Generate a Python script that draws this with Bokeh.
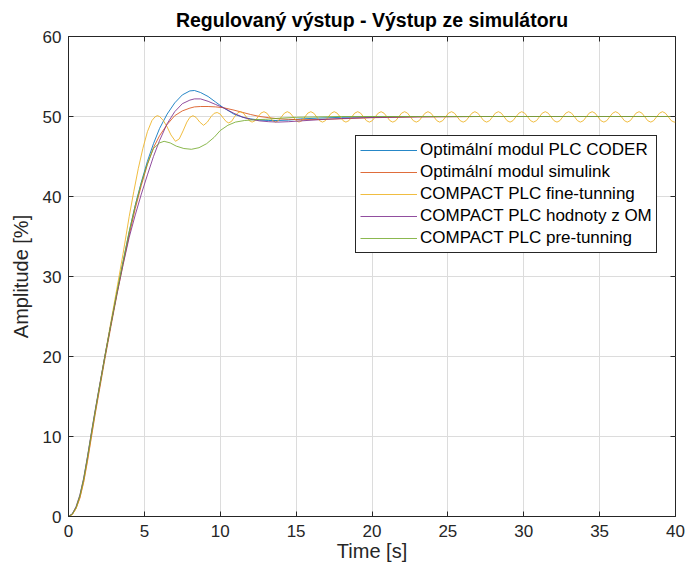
from bokeh.plotting import figure
from bokeh.models import (Legend, LegendItem, LinearAxis, FixedTicker, Range1d,
                          CustomLabelingPolicy)
from bokeh.embed import file_html
from bokeh.resources import INLINE

# ---------------- data ----------------
x_ticks = [0, 5, 10, 15, 20, 25, 30, 35, 40]
y_ticks = [0, 10, 20, 30, 40, 50, 60]

labels = ["Optimální modul PLC CODER", "Optimální modul simulink",
          "COMPACT PLC fine-tunning", "COMPACT PLC hodnoty z OM",
          "COMPACT PLC pre-tunning"]
colors = ["#0072BD", "#D95319", "#EDB120", "#7E2F8E", "#77AC30"]

t_common = [0, 0.25, 0.5, 0.75, 1.0, 1.25, 1.5, 1.75, 2.0, 2.4, 2.8, 3.2, 3.6,
            4.0, 4.4, 4.8, 5.2, 5.6, 6.0, 6.5, 7.0, 7.5, 8.0, 8.3, 8.7, 9.2,
            9.7, 10.2, 10.9, 11.5, 12.0, 12.6, 13.2, 13.8, 14.5, 15.3, 16.5,
            18, 20, 23, 27, 32, 40]

coder = [0, 0.3, 1.1, 2.5, 4.6, 7.3, 10.2, 13.0, 15.7, 20.0, 24.1, 28.1, 31.9,
         35.6, 38.9, 41.8, 44.4, 46.6, 48.5, 50.3, 51.7, 52.7, 53.2, 53.25, 53.0,
         52.5, 51.8, 51.1, 50.3, 49.9, 49.7, 49.55, 49.5, 49.5, 49.55, 49.7,
         49.8, 49.9, 49.95, 50.0, 50.0, 50.0, 50.0]

simulink = [0, 0.25, 1.0, 2.3, 4.3, 6.9, 9.8, 12.7, 15.4, 19.7, 23.8, 27.8, 31.6,
            35.2, 38.5, 41.4, 44.0, 46.1, 47.6, 49.0, 50.1, 50.7, 51.05, 51.2,
            51.25, 51.25, 51.2, 51.1, 50.8, 50.5, 50.25, 50.0, 49.85, 49.72,
            49.65, 49.6, 49.62, 49.72, 49.85, 49.95, 50.0, 50.0, 50.0]

hodnoty = [0, 0.35, 1.25, 2.7, 4.8, 7.5, 10.4, 13.2, 15.9, 20.1, 24.1, 27.9, 31.5,
           34.9, 37.7, 40.3, 42.7, 45.0, 47.0, 49.1, 50.6, 51.6, 52.05, 52.2,
           52.2, 51.9, 51.5, 51.1, 50.4, 49.9, 49.65, 49.45, 49.35, 49.3, 49.35,
           49.45, 49.6, 49.75, 49.88, 49.96, 50.0, 50.0, 50.0]

t_pre = [0, 0.25, 0.5, 0.75, 1.0, 1.25, 1.5, 1.75, 2.0, 2.4, 2.8, 3.2, 3.6, 4.0,
         4.4, 4.8, 5.2, 5.6, 6.0, 6.3, 6.7, 7.1, 7.6, 8.1, 8.6, 9.1, 9.6, 10.0,
         10.5, 11.0, 11.6, 12.3, 13.0, 14.0, 15.0, 16.5, 18, 20, 23, 27, 32, 40]
pre = [0, 0.3, 1.15, 2.6, 4.7, 7.4, 10.3, 13.1, 15.8, 20.0, 24.1, 28.1, 31.9,
       35.6, 38.9, 41.7, 44.1, 46.0, 46.7, 46.9, 46.7, 46.3, 46.0, 45.9, 46.1,
       46.6, 47.4, 48.25, 48.9, 49.3, 49.5, 49.6, 49.65, 49.8, 49.9, 49.95,
       50.0, 50.0, 50.0, 50.0, 50.0, 50.0]

t_fine = [0, 0.25, 0.5, 0.75, 1.0, 1.25, 1.5, 1.75, 2.0, 2.4, 2.8, 3.2, 3.6, 4.0,
          4.3, 4.6, 4.9, 5.2, 5.5, 5.7, 5.85, 6.0, 6.25, 6.5, 6.75, 7.05, 7.3,
          7.55, 7.8, 8.0, 8.2, 8.4, 8.65, 8.9, 9.15, 9.4, 9.6, 9.8, 10.0, 10.2,
          10.4, 10.56, 10.75, 10.95, 11.15,
          11.33, 11.52, 11.72, 11.91, 12.10, 12.30, 12.49, 12.68,
          12.88, 13.07, 13.26, 13.45, 13.65, 13.84, 14.03, 14.23,
          14.42, 14.61, 14.81, 15.00, 15.19, 15.39, 15.58, 15.77,
          15.97, 16.16, 16.35, 16.54, 16.74, 16.93, 17.12, 17.32,
          17.51, 17.70, 17.90, 18.09, 18.28, 18.48, 18.67, 18.86,
          19.06, 19.25, 19.44, 19.63, 19.83, 20.02, 20.21, 20.41,
          20.60, 20.79, 20.99, 21.18, 21.37, 21.57, 21.76, 21.95,
          22.15, 22.34, 22.53, 22.72, 22.92, 23.11, 23.30, 23.50,
          23.69, 23.88, 24.08, 24.27, 24.46, 24.66, 24.85, 25.04,
          25.24, 25.43, 25.62, 25.81, 26.01, 26.20, 26.39, 26.59,
          26.78, 26.97, 27.17, 27.36, 27.55, 27.75, 27.94, 28.13,
          28.33, 28.52, 28.71, 28.90, 29.10, 29.29, 29.48, 29.68,
          29.87, 30.06, 30.26, 30.45, 30.64, 30.84, 31.03, 31.22,
          31.42, 31.61, 31.80, 31.99, 32.19, 32.38, 32.57, 32.77,
          32.96, 33.15, 33.35, 33.54, 33.73, 33.93, 34.12, 34.31,
          34.51, 34.70, 34.89, 35.08, 35.28, 35.47, 35.66, 35.86,
          36.05, 36.24, 36.44, 36.63, 36.82, 37.02, 37.21, 37.40,
          37.60, 37.79, 37.98, 38.17, 38.37, 38.56, 38.75, 38.95,
          39.14, 39.33, 39.53, 39.72, 39.91, 40.0]
fine = [0, 0.25, 1.0, 2.4, 4.4, 7.1, 10.0, 12.9, 15.7, 20.1, 24.4, 28.6, 32.9,
        37.5, 40.6, 43.5, 46.0, 48.1, 49.5, 49.95, 50.1, 50.0, 49.5, 48.7, 47.7,
        46.9, 47.2, 48.2, 49.3, 49.9, 50.1, 49.9, 49.3, 48.9, 49.3, 50.0, 50.4,
        50.5, 50.3, 49.8, 49.35, 49.2, 49.4, 50.0, 50.45,
        50.6, 50.42, 49.95, 49.48, 49.3, 49.48, 49.95, 50.42,
        50.6, 50.42, 49.95, 49.48, 49.3, 49.48, 49.95, 50.42,
        50.6, 50.42, 49.95, 49.48, 49.3, 49.48, 49.95, 50.42,
        50.6, 50.42, 49.95, 49.48, 49.3, 49.48, 49.95, 50.42,
        50.6, 50.42, 49.95, 49.48, 49.3, 49.48, 49.95, 50.42,
        50.6, 50.42, 49.95, 49.48, 49.3, 49.48, 49.95, 50.42,
        50.6, 50.42, 49.95, 49.48, 49.3, 49.48, 49.95, 50.42,
        50.6, 50.42, 49.95, 49.48, 49.3, 49.48, 49.95, 50.42,
        50.6, 50.42, 49.95, 49.48, 49.3, 49.48, 49.95, 50.42,
        50.6, 50.42, 49.95, 49.48, 49.3, 49.48, 49.95, 50.42,
        50.6, 50.42, 49.95, 49.48, 49.3, 49.48, 49.95, 50.42,
        50.6, 50.42, 49.95, 49.48, 49.3, 49.48, 49.95, 50.42,
        50.6, 50.42, 49.95, 49.48, 49.3, 49.48, 49.95, 50.42,
        50.6, 50.42, 49.95, 49.48, 49.3, 49.48, 49.95, 50.42,
        50.6, 50.42, 49.95, 49.48, 49.3, 49.48, 49.95, 50.42,
        50.6, 50.42, 49.95, 49.48, 49.3, 49.48, 49.95, 50.42,
        50.6, 50.42, 49.95, 49.48, 49.3, 49.48, 49.95, 50.42,
        50.6, 50.42, 49.95, 49.48, 49.3, 49.48, 49.95, 50.42,
        50.6, 50.42, 49.95, 49.48, 49.3, 49.32]

series = [(t_common, coder), (t_common, simulink), (t_fine, fine),
          (t_common, hodnoty), (t_pre, pre)]

# ---------------- figure ----------------
FONT = "Liberation Sans"
TXT = "#262626"

p = figure(width=687, height=574, x_range=Range1d(0, 40), y_range=Range1d(0, 60),
           output_backend="svg", toolbar_location=None,
           min_border_left=68, min_border_right=12, min_border_top=36,
           min_border_bottom=58)
p.title.text = "Regulovaný výstup - Výstup ze simulátoru"
p.title.align = "center"
p.title.text_font = FONT
p.title.text_font_size = "19.5px"
p.title.text_font_style = "bold"
p.title.text_color = "#000000"
p.title.standoff = 3

p.outline_line_color = TXT
p.outline_line_alpha = 1
p.outline_line_width = 1

for ax, ticks in ((p.xaxis[0], x_ticks), (p.yaxis[0], y_ticks)):
    ax.ticker = FixedTicker(ticks=ticks)
    ax.major_tick_in = 5
    ax.major_tick_out = 0
    ax.minor_tick_line_color = None
    ax.axis_line_color = TXT
    ax.major_tick_line_color = TXT
    ax.major_label_text_font = FONT
    ax.major_label_text_font_size = "17px"
    ax.major_label_text_color = TXT
    ax.axis_label_text_font = FONT
    ax.axis_label_text_font_size = "20px"
    ax.axis_label_text_font_style = "normal"
    ax.axis_label_text_color = TXT

p.xaxis.axis_label = "Time [s]"
p.yaxis.axis_label = "Amplitude [%]"
p.xaxis.major_label_standoff = 8
p.xaxis.axis_label_standoff = 0
p.yaxis.major_label_standoff = 7
p.yaxis.axis_label_standoff = 8

hide_labels = "for (const i of Array.from(indices)) { indices.unset(i) }\nreturn indices"
for loc, ticks in (("above", x_ticks), ("right", y_ticks)):
    ax = LinearAxis(ticker=FixedTicker(ticks=ticks), major_tick_in=5,
                    major_tick_out=0, minor_tick_line_color=None,
                    axis_line_color=None, major_tick_line_color=TXT,
                    major_label_policy=CustomLabelingPolicy(code=hide_labels),
                    major_label_text_font_size="1px",
                    major_label_standoff=0)
    p.add_layout(ax, loc)

p.xgrid.ticker = FixedTicker(ticks=x_ticks)
p.ygrid.ticker = FixedTicker(ticks=y_ticks)
for g in (p.xgrid[0], p.ygrid[0]):
    g.grid_line_color = "#dcdcdc"
    g.grid_line_alpha = 1
    g.grid_line_width = 1

renderers = []
for (tx, vals), col in zip(series, colors):
    r = p.line(tx, vals, line_color=col, line_width=1, line_alpha=0.85)
    renderers.append(r)

legend = Legend(items=[LegendItem(label=lab, renderers=[r])
                       for lab, r in zip(labels, renderers)],
                location=(287, 263))
legend.label_text_font = FONT
legend.label_text_font_size = "17px"
legend.label_text_color = "#000000"
legend.glyph_width = 57
legend.glyph_height = 20
legend.label_height = 20
legend.label_standoff = 3
legend.spacing = 2
legend.padding = 4
legend.margin = 0
legend.border_line_color = TXT
legend.border_line_width = 1
legend.border_line_alpha = 1
legend.background_fill_alpha = 1
p.add_layout(legend, "center")

open("out.html", "w").write(file_html(p, INLINE))
